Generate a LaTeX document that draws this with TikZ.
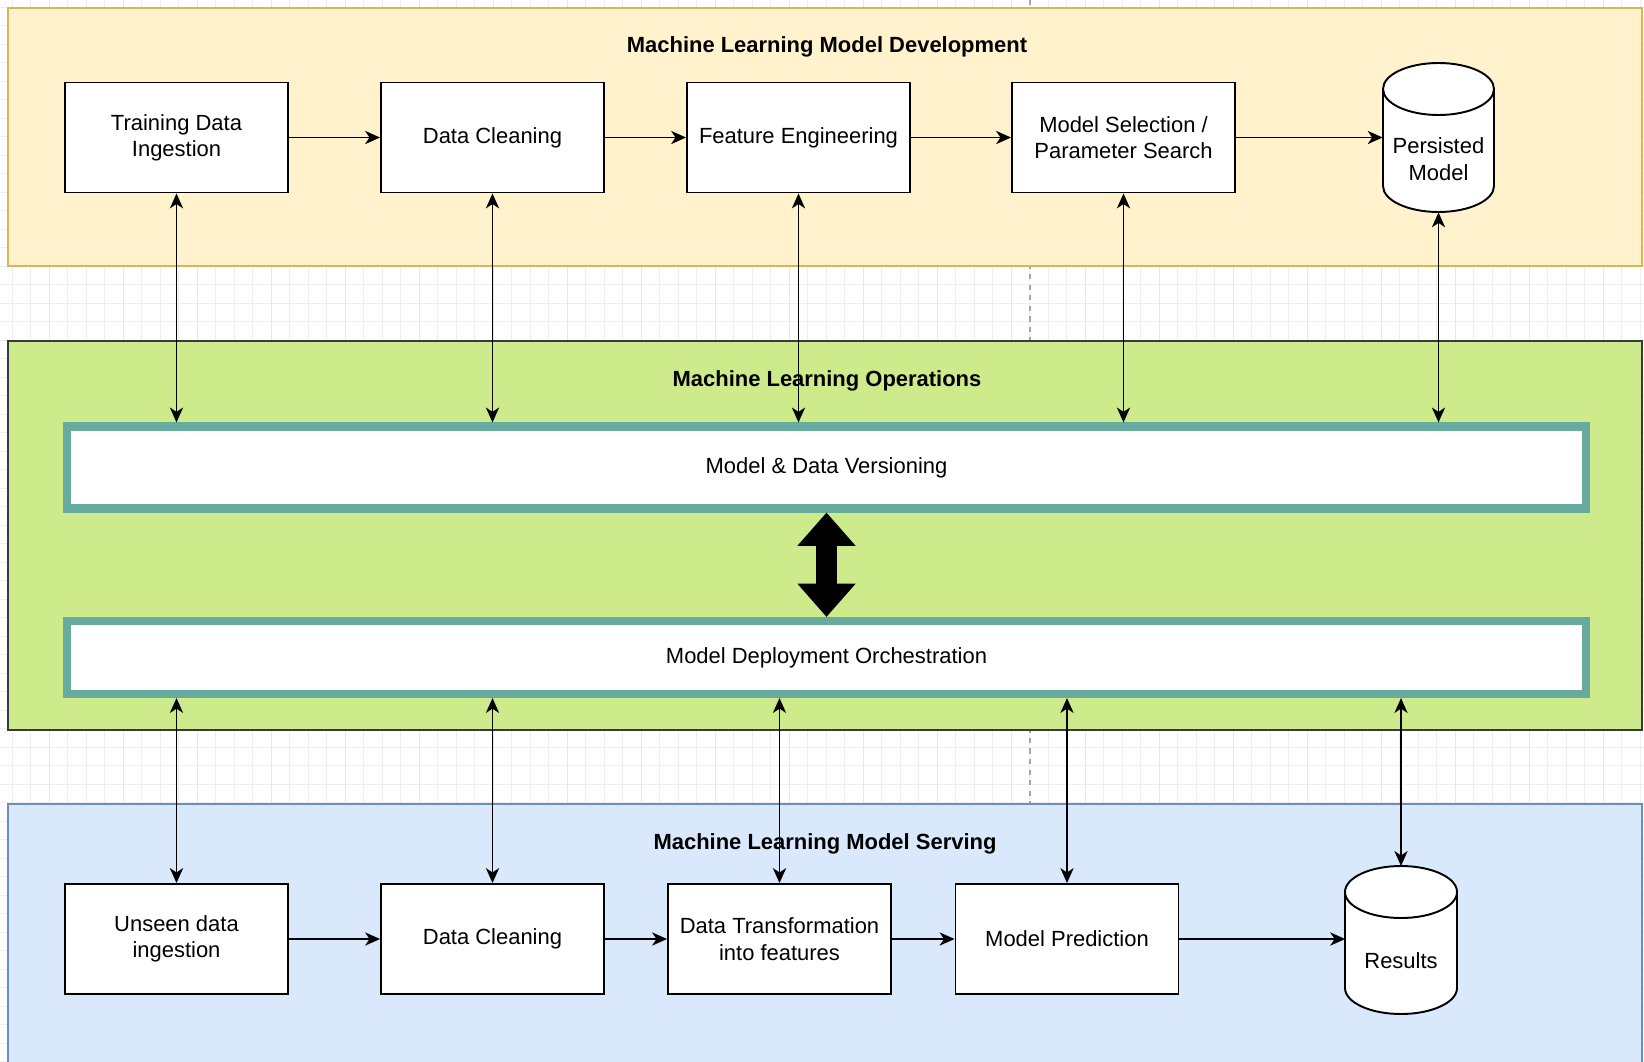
\documentclass[tikz,border=0pt]{standalone}
\usepackage{fontspec}
\setmainfont{Liberation Sans}
\usetikzlibrary{arrows.meta,positioning,shapes.geometric}
\definecolor{devfill}{RGB}{255,242,204}
\definecolor{devline}{RGB}{214,182,86}
\definecolor{opsfill}{RGB}{205,235,139}
\definecolor{opsline}{RGB}{54,57,61}
\definecolor{srvfill}{RGB}{218,232,252}
\definecolor{srvline}{RGB}{108,142,191}
\definecolor{tealline}{RGB}{103,171,159}
\definecolor{gridgray}{RGB}{236,238,241}

\begin{document}
\begin{tikzpicture}[
      x=0.02cm, y=-0.02cm,
      font=\fontsize{12.5}{15}\selectfont,
      band/.style={line width=0.8pt},
      stage/.style={rectangle, draw, line width=1.1pt, fill=white, align=center,
                    minimum width=4.46cm, minimum height=2.2cm, inner sep=2pt},
      drum/.style={draw, line width=1.1pt, fill=white},
      store/.style={rectangle, align=center, minimum width=2.22cm,
                    minimum height=2.12cm, inner sep=0pt},
      layer/.style={rectangle, draw=tealline, line width=4.6pt, fill=white,
                    minimum width=30.4cm},
      title/.style={font=\fontsize{12.5}{15}\selectfont\bfseries},
      flow/.style={-{Stealth[length=8.5pt,width=7.5pt,inset=2.5pt]}, line width=1.1pt},
      sync/.style={{Stealth[length=8.5pt,width=7.5pt,inset=2.5pt]}-{Stealth[length=8.5pt,width=7.5pt,inset=2.5pt]},
                   line width=1.1pt},
    ]
    \useasboundingbox (0,0) rectangle (1644,1062);
    % background grid
    \foreach \gx in {12,30.5,...,1644} \draw[gridgray, line width=0.3pt] (\gx,0) -- (\gx,1062);
    \foreach \gy in {7,25.5,...,1062} \draw[gridgray, line width=0.3pt] (0,\gy) -- (1644,\gy);
    \foreach \gx in {49,123,...,1644} \draw[gridgray!80!black!15!gridgray, line width=0.5pt] (\gx,0) -- (\gx,1062);
    \draw[gray!70, dashed, line width=0.6pt] (1030,0) -- (1030,1062);

    % bands
    \draw[band, draw=devline, fill=devfill] (8,8) rectangle (1642,266);
    \draw[band, draw=opsline, fill=opsfill] (8,341) rectangle (1642,730);
    \draw[band, draw=srvline, fill=srvfill] (8,804) rectangle (1642,1070);
    \node[title] (devtitle) at (827,47)  {Machine Learning Model Development};
    \node[title] (opstitle) at (827,381) {Machine Learning Operations};
    \node[title] (srvtitle) at (825,844) {Machine Learning Model Serving};

    % cylinders (outline), text nodes follow
    \foreach \cx/\rx/\ct/\cb in {1438.5/55.5/89/186, 1401/56/892/988} {
      \draw[drum] (\cx-\rx,\ct) -- (\cx-\rx,\cb)
        arc[start angle=180, end angle=0, x radius=\rx, y radius=26] -- (\cx+\rx,\ct);
      \draw[drum] (\cx,\ct) ellipse [x radius=\rx, y radius=26];
    }

    % development row
    \node[stage] (tdi) at (176.5,137.5)  {Training Data\\ Ingestion};
    \node[stage] (dcl) at (492.5,137.5)  {Data Cleaning};
    \node[stage] (fen) at (798.5,137.5)  {Feature Engineering};
    \node[stage] (msp) at (1123.5,137.5) {Model Selection /\\ Parameter Search};
    \node[store] (pm)  at (1438.5,159)   {Persisted\\ Model};

    % operations layers
    \node[layer, minimum height=1.64cm] (ver) at (826.5,467.5) {Model \& Data Versioning};
    \node[layer, minimum height=1.46cm] (dep) at (826.5,657.5) {Model Deployment Orchestration};

    % serving row
    \node[stage] (udi) at (176.5,939)  {Unseen data\\ ingestion};
    \node[stage] (dcs) at (492.5,939)  {Data Cleaning};
    \node[stage] (dtf) at (779.5,939)  {Data Transformation\\ into features};
    \node[stage] (mpr) at (1067,939)   {Model Prediction};
    \node[store] (res) at (1401,961)   {Results};
    \coordinate (restop) at (1401,866);

    \draw[flow] (tdi) -- (dcl);
    \draw[flow] (dcl) -- (fen);
    \draw[flow] (fen) -- (msp);
    \draw[flow] (msp) -- (msp -| pm.west);
    \draw[flow] (udi) -- (dcs);
    \draw[flow] (dcs) -- (dtf);
    \draw[flow] (dtf) -- (mpr);
    \draw[flow] (mpr) -- (mpr -| res.west);

    \foreach \s in {tdi,dcl,fen,msp,pm}
      \draw[sync] (\s.south) -- (\s.south |- ver.north);
    \foreach \s in {udi,dcs,dtf,mpr,restop}
      \draw[sync] (\s.north |- dep.south) -- (\s.north);

    \draw[line width=12.5pt, {Triangle[width=32pt,length=19pt]}-{Triangle[width=32pt,length=19pt]}] (ver) -- (dep);
  \end{tikzpicture}
\end{document}
